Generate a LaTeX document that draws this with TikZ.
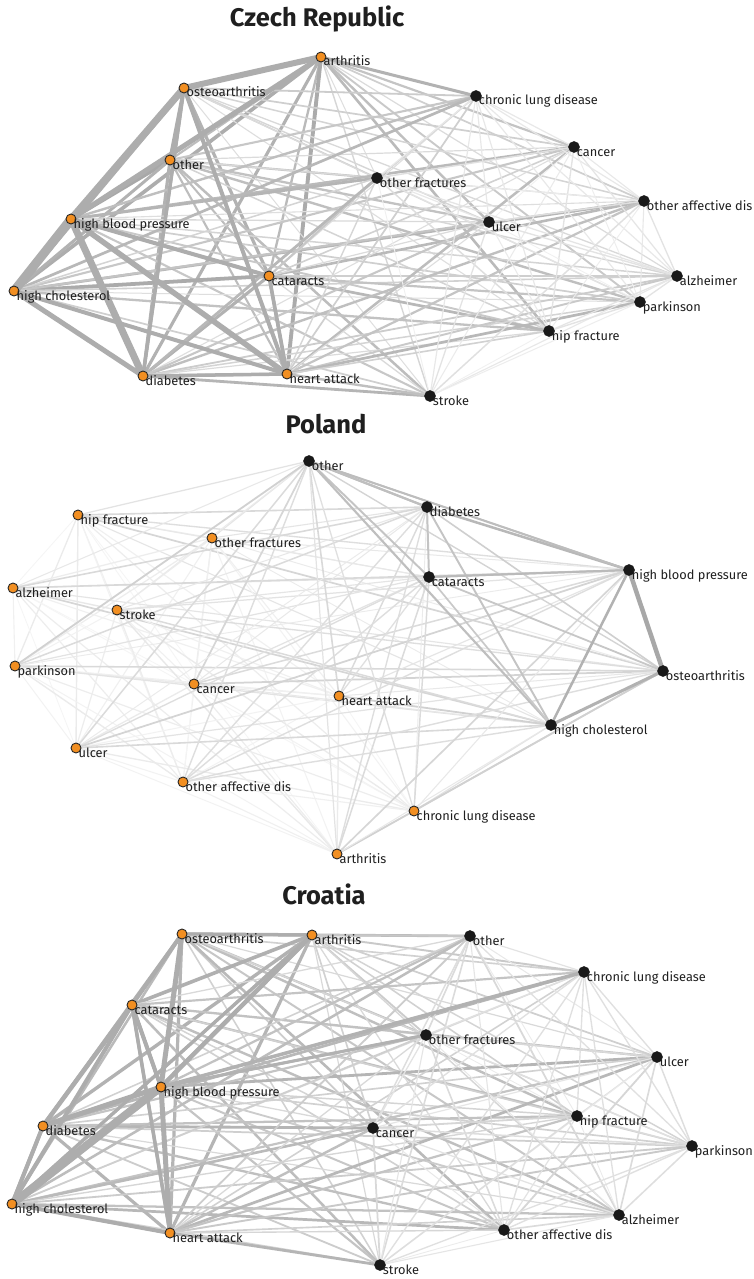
\documentclass[tikz,border=0pt]{standalone}
\usepackage{fontspec}
\setmainfont{Fira Sans}
\definecolor{orng}{RGB}{242,143,34}
\pgfdeclarelayer{bg}
\pgfdeclarelayer{paper}
\pgfsetlayers{paper,bg,main}
\newcommand\alledges[2]{%
 \begin{pgfonlayer}{bg}
 \foreach \i in {1,...,16}{
   \pgfmathtruncatemacro\js{\i+1}
   \foreach \j in {\js,...,17}{
     \pgfmathsetmacro\v{mod(\i*37+\j*53+\i*\j*11,19)/18}
     \ifnum\j>#2 \ifnum\i>#2 \def\cat{BB}\else\def\cat{OB}\fi\else\def\cat{OO}\fi
     \pgfmathsetmacro\w{\csname\cat w\endcsname+\csname\cat dw\endcsname*\v}
     \pgfmathtruncatemacro\c{\csname\cat c\endcsname+\csname\cat dc\endcsname*\v}
     \draw[edge,line width=\w pt,draw=black!\c] (#1\i.center) -- (#1\j.center);
   }}
 \end{pgfonlayer}}
\newcommand\heavyedge[4]{\begin{pgfonlayer}{bg}\draw[edge,line width=#3pt,draw=black!#4] (#1.center) -- (#2.center);\end{pgfonlayer}}
\newcommand\onodeat[4]{\node[onodest,label={[lbl]0:#4}] (#1) at (#2,#3) {};}
\newcommand\bnodeat[4]{\node[bnodest,label={[lbl]0:#4}] (#1) at (#2,#3) {};}
\begin{document}
\begin{tikzpicture}[x=1pt,y=-1pt,
  onodest/.style={circle,fill=orng,draw=black!85,line width=0.9pt,inner sep=0pt,minimum size=10pt},
  bnodest/.style={circle,fill=black!90,draw=black!90,line width=0.5pt,inner sep=0pt,minimum size=11pt},
  lbl/.style={anchor=base west,inner sep=0pt,xshift=-3pt,yshift=-9pt,font=\fontsize{12.8}{14}\selectfont,text=black!88},
  ttl/.style={anchor=base,inner sep=0pt,font=\fontsize{25.5}{30}\selectfont\bfseries,text=black!88},
  edge/.style={line cap=round}]
\begin{pgfonlayer}{paper}
\fill[white] (0,0) rectangle (754,1279);
\end{pgfonlayer}
\useasboundingbox (0,0) rectangle (754,1279);

% ---------------- Czech Republic ----------------
\node[ttl] (t1) at (317,27) {Czech Republic};
\onodeat{cz1}{321}{57}{arthritis}
\onodeat{cz2}{184}{88}{osteoarthritis}
\onodeat{cz3}{170}{160}{other}
\onodeat{cz4}{71}{219}{high blood pressure}
\onodeat{cz5}{14}{291}{high cholesterol}
\onodeat{cz6}{269}{276}{cataracts}
\onodeat{cz7}{143}{376}{diabetes}
\onodeat{cz8}{287}{374}{heart attack}
\bnodeat{cz9}{476}{96}{chronic lung disease}
\bnodeat{cz10}{574}{147}{cancer}
\bnodeat{cz11}{377}{178}{other fractures}
\bnodeat{cz12}{644}{201}{other affective dis}
\bnodeat{cz13}{489}{222}{ulcer}
\bnodeat{cz14}{677}{276}{alzheimer}
\bnodeat{cz15}{640}{302}{parkinson}
\bnodeat{cz16}{549}{331}{hip fracture}
\bnodeat{cz17}{430}{396}{stroke}
\def\OOw{2.0}\def\OOdw{2.0}\def\OOc{26}\def\OOdc{8}
\def\OBw{1.0}\def\OBdw{1.8}\def\OBc{13}\def\OBdc{16}
\def\BBw{0.8}\def\BBdw{0.7}\def\BBc{6}\def\BBdc{7}
\alledges{cz}{8}
\heavyedge{cz4}{cz5}{9}{32}
\heavyedge{cz2}{cz4}{7}{32}
\heavyedge{cz2}{cz5}{5.5}{32}
\heavyedge{cz1}{cz2}{6}{32}
\heavyedge{cz4}{cz7}{7}{32}
\heavyedge{cz5}{cz7}{5}{32}
\heavyedge{cz4}{cz8}{5.5}{32}
\heavyedge{cz5}{cz8}{4}{32}
\heavyedge{cz1}{cz4}{5}{32}
\heavyedge{cz2}{cz8}{4}{32}
\heavyedge{cz2}{cz7}{3.5}{32}
\heavyedge{cz4}{cz6}{4}{32}
\heavyedge{cz7}{cz8}{3.5}{32}
\heavyedge{cz1}{cz9}{3}{30}
\heavyedge{cz6}{cz8}{3}{32}

% ---------------- Poland ----------------
\node[ttl] (t2) at (326,433) {Poland};
\onodeat{pl1}{78}{515}{hip fracture}
\onodeat{pl2}{212}{538}{other fractures}
\onodeat{pl3}{13}{588}{alzheimer}
\onodeat{pl4}{117}{610}{stroke}
\onodeat{pl5}{15}{666}{parkinson}
\onodeat{pl6}{194}{684}{cancer}
\onodeat{pl7}{339}{696}{heart attack}
\onodeat{pl8}{76}{748}{ulcer}
\onodeat{pl9}{183}{782}{other affective dis}
\onodeat{pl10}{414}{811}{chronic lung disease}
\onodeat{pl11}{337}{854}{arthritis}
\bnodeat{pl12}{309}{461}{other}
\bnodeat{pl13}{427}{507}{diabetes}
\bnodeat{pl14}{429}{577}{cataracts}
\bnodeat{pl15}{629}{570}{high blood pressure}
\bnodeat{pl16}{663}{671}{osteoarthritis}
\bnodeat{pl17}{551}{725}{high cholesterol}
\def\OOw{0.8}\def\OOdw{0.6}\def\OOc{4}\def\OOdc{5}
\def\OBw{0.9}\def\OBdw{0.9}\def\OBc{8}\def\OBdc{10}
\def\BBw{1.2}\def\BBdw{1.0}\def\BBc{16}\def\BBdc{10}
\alledges{pl}{11}
\heavyedge{pl15}{pl16}{4.5}{34}
\heavyedge{pl16}{pl17}{3}{30}
\heavyedge{pl15}{pl17}{2.5}{30}
\heavyedge{pl13}{pl15}{2.5}{28}
\heavyedge{pl12}{pl15}{2}{26}
\heavyedge{pl14}{pl15}{2}{27}
\heavyedge{pl12}{pl13}{2}{25}

% ---------------- Croatia ----------------
\node[ttl] (t3) at (324,904) {Croatia};
\onodeat{hr1}{182}{934}{osteoarthritis}
\onodeat{hr2}{312}{935}{arthritis}
\onodeat{hr3}{132}{1005}{cataracts}
\onodeat{hr4}{161}{1087}{high blood pressure}
\onodeat{hr5}{43}{1126}{diabetes}
\onodeat{hr6}{12}{1204}{high cholesterol}
\onodeat{hr7}{170}{1233}{heart attack}
\bnodeat{hr8}{470}{936}{other}
\bnodeat{hr9}{584}{972}{chronic lung disease}
\bnodeat{hr10}{426}{1035}{other fractures}
\bnodeat{hr11}{657}{1057}{ulcer}
\bnodeat{hr12}{373}{1128}{cancer}
\bnodeat{hr13}{577}{1116}{hip fracture}
\bnodeat{hr14}{692}{1146}{parkinson}
\bnodeat{hr15}{619}{1215}{alzheimer}
\bnodeat{hr16}{504}{1230}{other affective dis}
\bnodeat{hr17}{380}{1265}{stroke}
\def\OOw{2.2}\def\OOdw{1.8}\def\OOc{26}\def\OOdc{7}
\def\OBw{1.2}\def\OBdw{1.6}\def\OBc{15}\def\OBdc{14}
\def\BBw{0.8}\def\BBdw{1.0}\def\BBc{8}\def\BBdc{8}
\alledges{hr}{7}
\heavyedge{hr4}{hr6}{8}{32}
\heavyedge{hr4}{hr5}{5}{32}
\heavyedge{hr5}{hr6}{4}{32}
\heavyedge{hr3}{hr5}{4.5}{32}
\heavyedge{hr3}{hr6}{4}{32}
\heavyedge{hr1}{hr4}{5}{32}
\heavyedge{hr1}{hr3}{4}{32}
\heavyedge{hr4}{hr7}{5}{32}
\heavyedge{hr2}{hr4}{4.5}{32}
\heavyedge{hr3}{hr7}{3.5}{32}
\heavyedge{hr6}{hr7}{4}{32}
\heavyedge{hr2}{hr6}{3}{32}
\heavyedge{hr1}{hr2}{3}{32}
\heavyedge{hr4}{hr9}{3.5}{30}
\heavyedge{hr4}{hr10}{3}{30}
\heavyedge{hr3}{hr4}{3.5}{32}
\end{tikzpicture}
\end{document}
